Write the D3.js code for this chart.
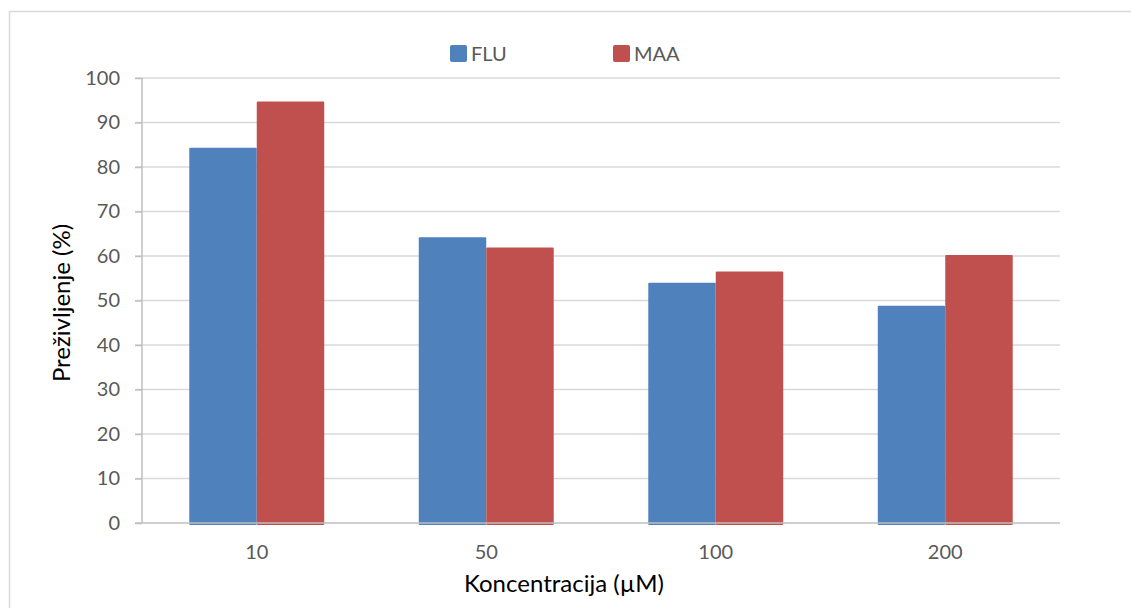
<!DOCTYPE html>
<html>
<head>
<meta charset="utf-8">
<script src="https://cdn.jsdelivr.net/npm/d3@7"></script>
<style>
  body { margin: 0; background: #fff; }
  text { font-family: Lato, "Open Sans", sans-serif; }
</style>
</head>
<body>
<div id="chart"></div>
<script>
var categories = ["10", "50", "100", "200"];
var seriesNames = ["FLU", "MAA"];
var fluValues = [84.3, 64.2, 54.0, 48.8];
var maaValues = [94.7, 61.9, 56.5, 60.2];
var yTicks = [0, 10, 20, 30, 40, 50, 60, 70, 80, 90, 100];
var colors = ["#4f81bd", "#c0504d"];

var width = 1131, height = 608;
var margin = {left: 142, right: 71, top: 78, bottom: 85};

var svg = d3.select("#chart").append("svg")
    .attr("width", width)
    .attr("height", height);

// chart area border
svg.append("rect")
    .attr("x", 9.5).attr("y", 11.5)
    .attr("width", 1140).attr("height", 620)
    .attr("fill", "none")
    .attr("stroke", "#d9d9d9")
    .attr("stroke-width", 1.5);

var x = d3.scaleBand()
    .domain(categories)
    .range([margin.left, width - margin.right])
    .paddingInner(0.412)
    .paddingOuter(0.206);

var xs = d3.scaleBand()
    .domain(seriesNames)
    .range([0, x.bandwidth()]);

var y = d3.scaleLinear()
    .domain([0, 100])
    .range([height - margin.bottom, margin.top]);

// gridlines
svg.append("g")
    .selectAll("line")
    .data(yTicks.slice(1))
    .enter().append("line")
    .attr("x1", margin.left - 7)
    .attr("x2", width - margin.right)
    .attr("y1", function(d) { return y(d); })
    .attr("y2", function(d) { return y(d); })
    .attr("stroke", "#d9d9d9")
    .attr("stroke-width", 1.5);

var data = categories.map(function(c, i) {
    return {cat: c, vals: [fluValues[i], maaValues[i]]};
});

var groups = svg.selectAll("g.grp")
    .data(data)
    .enter().append("g")
    .attr("class", "grp")
    .attr("transform", function(d) { return "translate(" + x(d.cat) + ",0)"; });

groups.selectAll("rect")
    .data(function(d) { return d.vals.map(function(v, i) { return {name: seriesNames[i], v: v, i: i}; }); })
    .enter().append("rect")
    .attr("x", function(d) { return xs(d.name); })
    .attr("y", function(d) { return y(d.v); })
    .attr("width", xs.bandwidth())
    .attr("height", function(d) { return y(0) - y(d.v) + 2; })
    .attr("rx", 1)
    .attr("fill", function(d) { return colors[d.i]; });

// y axis
var yAxis = d3.axisLeft(y)
    .tickValues(yTicks)
    .tickSize(7)
    .tickPadding(15);

var yg = svg.append("g")
    .attr("transform", "translate(" + margin.left + ",0)")
    .call(yAxis);
yg.select(".domain").attr("stroke", "#bfbfbf").attr("stroke-width", 1.5)
    .attr("d", "M0," + y(0) + "V" + y(100));
yg.selectAll(".tick line").attr("stroke", "#bfbfbf").attr("stroke-width", 1.5);
yg.selectAll(".tick text")
    .attr("fill", "#595959")
    .style("font-size", "20px");

// x axis
var xAxis = d3.axisBottom(x).tickSize(0).tickPadding(22);
var xg = svg.append("g")
    .attr("transform", "translate(0," + y(0) + ")")
    .call(xAxis);
xg.select(".domain").attr("stroke", "#bfbfbf").attr("stroke-width", 1.5)
    .attr("d", "M" + (margin.left - 7) + ",0H" + (width - margin.right));
xg.selectAll(".tick text")
    .attr("fill", "#595959")
    .style("font-size", "20px");

// axis titles
svg.append("text")
    .attr("x", 564).attr("y", 592)
    .attr("text-anchor", "middle")
    .attr("fill", "#000")
    .style("font-size", "24px")
    .text("Koncentracija (µM)");

svg.append("text")
    .attr("transform", "translate(70,303) rotate(-90)")
    .attr("text-anchor", "middle")
    .attr("fill", "#000")
    .style("font-size", "24px")
    .text("Preživljenje (%)");

// legend
var legendX = [450, 613];
var legend = svg.selectAll("g.leg")
    .data(seriesNames)
    .enter().append("g")
    .attr("class", "leg")
    .attr("transform", function(d, i) { return "translate(" + legendX[i] + ",45)"; });
legend.append("rect")
    .attr("width", 17).attr("height", 17).attr("rx", 2)
    .attr("fill", function(d, i) { return colors[i]; });
legend.append("text")
    .attr("x", 21).attr("y", 16)
    .attr("fill", "#595959")
    .style("font-size", "20px")
    .text(function(d) { return d; });
</script>
</body>
</html>
